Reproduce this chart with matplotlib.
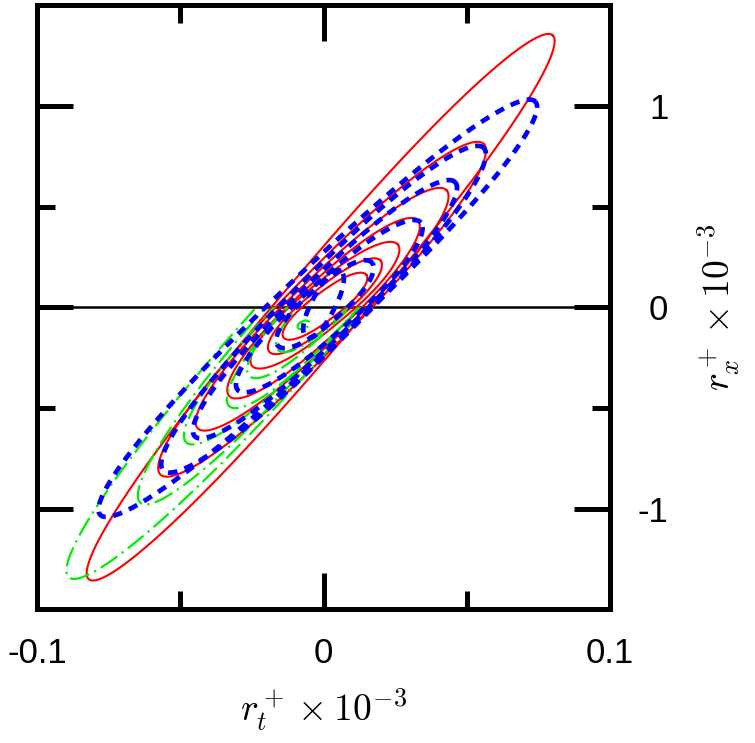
import matplotlib
matplotlib.use('Agg')
import matplotlib.pyplot as plt
import numpy as np
from matplotlib.patches import Rectangle

plt.rcParams['mathtext.fontset'] = 'cm'
plt.rcParams['font.family'] = ['Liberation Sans', 'DejaVu Sans']

# contour outlines: lower tip, upper tip, half width
# (half width in axes-fraction units, ~ half of the band across the diagonal)
red_lo_x = [-0.082, -0.057, -0.044, -0.033, -0.025, -0.019, -0.014]
red_lo_y = [-1.35, -0.83, -0.60, -0.44, -0.29, -0.22, -0.15]
red_hi_x = [0.080, 0.056, 0.043, 0.033, 0.026, 0.020, 0.015]
red_hi_y = [1.35, 0.81, 0.58, 0.43, 0.31, 0.23, 0.16]
red_hw = [0.128, 0.118, 0.102, 0.088, 0.074, 0.06, 0.046]

blue_lo_x = [-0.078, -0.056, -0.045, -0.030, -0.016, -0.006]
blue_lo_y = [-1.03, -0.81, -0.64, -0.41, -0.19, -0.15]
blue_hi_x = [0.074, 0.056, 0.046, 0.034, 0.017, 0.006]
blue_hi_y = [1.02, 0.79, 0.62, 0.42, 0.22, 0.18]
blue_hw = [0.125, 0.115, 0.10, 0.085, 0.06, 0.04]

# green is only drawn below r_x = 0
green_lo_x = [-0.089, -0.064, -0.048, -0.033, -0.026, -0.016, -0.009]
green_lo_y = [-1.34, -0.97, -0.67, -0.49, -0.34, -0.21, -0.10]
green_hi_x = [0.078, 0.052, 0.040, 0.030, 0.020, 0.015, -0.005]
green_hi_y = [1.30, 0.90, 0.62, 0.45, 0.30, 0.20, -0.075]
green_hw = [0.14, 0.12, 0.105, 0.09, 0.075, 0.06, 0.012]

x_ticks = [-0.1, 0, 0.1]
x_labels = ['-0.1', '0', '0.1']
y_ticks = [-1, 0, 1]
y_labels = ['-1', '0', '1']

XS, YS = 0.1, 1.5  # half ranges, used to draw outlines in square units
P = 2.4  # a bit blunter tips than a plain ellipse


def outline(lo, hi, hw, n=400):
    p1 = np.array([lo[0] / XS, lo[1] / YS])
    p2 = np.array([hi[0] / XS, hi[1] / YS])
    c = (p1 + p2) / 2
    d = (p2 - p1) / 2
    a = np.hypot(d[0], d[1])
    e = d / a
    nv = np.array([-e[1], e[0]])
    t = np.linspace(0, 2 * np.pi, n)
    s = a * np.sign(np.cos(t)) * np.abs(np.cos(t)) ** (2 / P)
    w = hw * np.sin(t)
    pts = c[:, None] + s * e[:, None] + w * nv[:, None]
    return pts[0] * XS, pts[1] * YS


fig = plt.figure(figsize=(7.55, 7.43), dpi=100)
ax = fig.add_axes([0.049, 0.180, 0.759, 0.813])

ax.axhline(0, color='black', lw=1.8, zorder=1)

for i in range(len(red_hw)):
    x, y = outline((red_lo_x[i], red_lo_y[i]), (red_hi_x[i], red_hi_y[i]), red_hw[i])
    ax.plot(x, y, color='red', lw=1.5, zorder=2)

clip = Rectangle((-0.1, -1.5), 0.2, 1.5, transform=ax.transData)
for i in range(len(green_hw)):
    x, y = outline((green_lo_x[i], green_lo_y[i]), (green_hi_x[i], green_hi_y[i]), green_hw[i])
    ln, = ax.plot(x, y, color='#00ee00', lw=1.6, ls=(0, (9, 2.5, 1, 2.5)), zorder=3)
    ln.set_clip_path(clip)

for i in range(len(blue_hw)):
    x, y = outline((blue_lo_x[i], blue_lo_y[i]), (blue_hi_x[i], blue_hi_y[i]), blue_hw[i])
    ax.plot(x, y, color='blue', lw=3.4, ls=(0, (2.0, 1.6)), zorder=4)

ax.set_xlim(-0.1, 0.1)
ax.set_ylim(-1.5, 1.5)

for s in ax.spines.values():
    s.set_linewidth(3.6)

ax.set_xticks(x_ticks)
ax.set_xticklabels(x_labels)
ax.set_xticks([-0.05, 0.05], minor=True)
ax.set_yticks(y_ticks)
ax.set_yticklabels(y_labels)
ax.set_yticks([-0.5, 0.5], minor=True)

ax.tick_params(which='both', direction='in', top=True, right=True, width=3.6,
               labelsize=25, labelleft=False, labelright=True)
ax.tick_params(which='major', length=26)
ax.tick_params(which='minor', length=13)
ax.tick_params(axis='x', pad=20)
ax.tick_params(axis='y', pad=42)
for lab in ax.get_yticklabels():
    lab.set_horizontalalignment('right')

ax.set_xlabel(r'$r_t^+ \times 10^{-3}$', fontsize=27, labelpad=12)
ax.yaxis.set_label_position('right')
ax.set_ylabel(r'$r_x^+ \times 10^{-3}$', fontsize=27, labelpad=20)

fig.savefig('out.png', dpi=100)
